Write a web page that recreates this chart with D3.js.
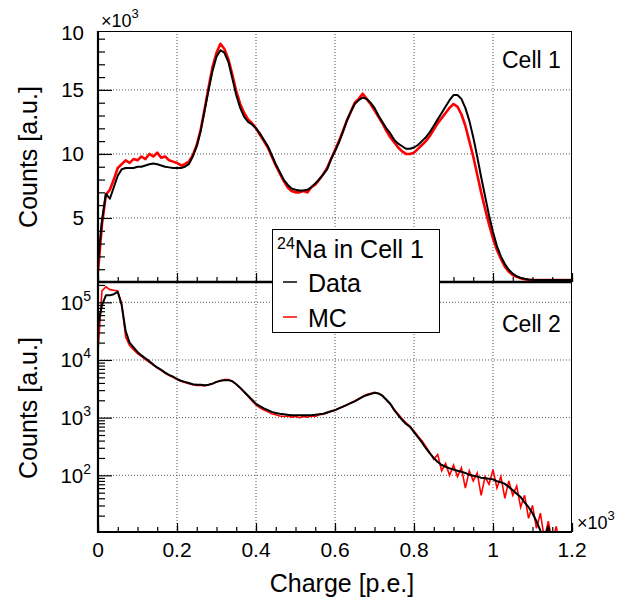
<!DOCTYPE html>
<html><head><meta charset="utf-8">
<script src="https://cdn.jsdelivr.net/npm/d3@7"></script>
<style>body{margin:0;background:#fff} text{font-family:"Liberation Sans",Arial,Helvetica,sans-serif;fill:#000}</style>
</head><body><svg id="c" width="641" height="600"></svg>
<script>
// bin centres, charge in units of 10^3 p.e.
const charge = d3.range(121).map(i => i / 100);

// Cell 1 (linear, units of 10^3 counts)
const cell1Data = [1.5,4.8,6.9,6.5,7.4,8.3,8.8,8.9,8.9,8.9,
 9.0,9.0,9.1,9.2,9.25,9.2,9.1,9.0,8.95,8.9,
 8.9,8.9,9.0,9.2,9.8,10.6,11.8,13.4,15.0,16.5,
 17.6,18.1,17.9,17.2,15.9,14.6,13.6,12.9,12.5,12.3,
 12.0,11.6,11.1,10.6,9.9,9.2,8.6,8.0,7.6,7.3,
 7.2,7.15,7.15,7.2,7.4,7.7,8.0,8.4,8.8,9.6,
 10.2,10.9,11.7,12.6,13.3,13.9,14.2,14.4,14.3,14.0,
 13.6,13.0,12.5,12.0,11.6,11.1,10.8,10.6,10.4,10.4,
 10.5,10.7,11.0,11.3,11.7,12.2,12.7,13.2,13.7,14.2,
 14.6,14.6,14.3,13.6,12.6,11.3,9.8,8.2,6.7,5.2,
 3.9,2.8,2.0,1.4,0.95,0.65,0.45,0.32,0.25,0.2,
 0.17,0.15,0.15,0.15,0.15,0.15,0.15,0.15,0.15,0.15,0.15];
const cell1MC = [0.8,4.5,6.8,7.2,8.0,8.9,9.2,9.5,9.3,9.6,
 9.5,9.8,9.6,10.0,9.8,10.1,9.7,9.8,9.5,9.4,
 9.3,9.1,9.2,9.4,9.9,10.7,11.9,13.5,15.2,16.8,
 17.9,18.6,18.2,17.4,16.2,14.9,13.9,13.2,12.7,12.4,
 12.0,11.5,11.0,10.5,9.8,9.1,8.5,7.9,7.4,7.1,
 7.0,7.0,7.1,7.0,7.4,7.6,8.0,8.4,8.9,9.6,
 10.3,11.0,11.8,12.6,13.3,14.0,14.3,14.7,14.3,13.9,
 13.4,12.9,12.4,11.8,11.3,10.9,10.5,10.2,10.0,10.0,
 10.1,10.4,10.7,11.0,11.4,11.9,12.4,12.8,13.2,13.6,
 13.9,13.7,13.1,12.2,11.0,9.8,8.4,7.0,5.7,4.5,
 3.4,2.5,1.8,1.2,0.8,0.55,0.4,0.3,0.22,0.18,
 0.15,0.15,0.15,0.15,0.15,0.15,0.15,0.15,0.15,0.15,0.15];

// Cell 2 (log, counts)
const cell2Data = [4.0e4,8.9e4,1.32e5,1.32e5,1.38e5,1.51e5,8.9e4,3.16e4,2.0e4,1.66e4,
 1.38e4,1.20e4,1.07e4,9550,8320,7410,6760,6030,5500,5130,
 4680,4370,4170,3980,3800,3720,3720,3630,3720,3890,
 4170,4370,4470,4470,4270,3800,3310,2820,2400,2040,
 1740,1580,1450,1350,1260,1200,1170,1150,1120,1100,
 1100,1100,1100,1100,1100,1120,1150,1170,1230,1290,
 1350,1450,1550,1660,1780,1910,2090,2290,2450,2570,
 2690,2630,2400,2040,1740,1350,1100,912,776,692,
 562,457,372,295,240,200,170,151,141,132,
 126,120,115,110,102,98,95,91,89,87,
 85,79,76,71,63,55,48,42,34,28,
 22,16,11,8,13,6,null,null,null,null,null];
const cell2MC = [1.41e4,1.58e5,1.86e5,1.66e5,1.62e5,1.58e5,9.5e4,2.51e4,1.78e4,1.51e4,
 1.29e4,1.15e4,1.02e4,9120,8130,7240,6610,5890,5370,5010,
 4570,4270,4070,3890,3720,3630,3630,3550,3720,3890,
 4170,4370,4570,4570,4270,3800,3240,2750,2340,1950,
 1660,1480,1350,1260,1170,1120,1070,1050,1070,1020,
 1050,1000,1050,1020,1070,1050,1120,1150,1200,1290,
 1350,1450,1550,1660,1820,1950,2140,2340,2510,2630,
 2750,2630,2400,2040,1700,1380,1150,955,813,708,
 589,479,398,316,250,190,230,120,160,100,
 150,95,135,60,120,80,110,45,95,70,
 125,60,95,40,80,45,65,28,45,18,
 30,12,22,8,16,7,13,6,null,null,null];

const xTickValues = [0,0.2,0.4,0.6,0.8,1,1.2];
const xTickLabels = ["0","0.2","0.4","0.6","0.8","1","1.2"];
const xMinorValues = d3.range(25).map(i => i * 0.05);
const topTickValues = [5,10,15];
const topTickLabels = ["5","10","15"];
const topMinorValues = d3.range(1,20);
const botTickValues = [1e2,1e3,1e4,1e5];
const botTickExps = ["2","3","4","5"];

const svg = d3.select("#c");
const L = 98, R = 572, T1 = 31, B1 = 282, T2 = 282, B2 = 532;
const x = d3.scaleLinear([0,1.2],[L,R]);
const yTop = d3.scaleLinear([0,19.6],[B1,T1]);
const yBot = d3.scaleLog([10.4,2.25e5],[B2,T2]);
const botMinor = [];
[10,100,1000,10000,100000].forEach(d => { for (let k=2;k<=9;k++){ const v=d*k; if (v>10.4 && v<2.25e5) botMinor.push(v);} });

svg.append("rect").attr("width",641).attr("height",600).attr("fill","#fff");

const grid = svg.append("g").attr("stroke","#555").attr("stroke-width",1).attr("stroke-dasharray","1,2");
xTickValues.filter(v => v>0 && v<1.2).forEach(v => {
  grid.append("line").attr("x1",x(v)).attr("x2",x(v)).attr("y1",T1).attr("y2",B2);
});
topTickValues.forEach(v => grid.append("line").attr("x1",L).attr("x2",R).attr("y1",yTop(v)).attr("y2",yTop(v)));
botTickValues.forEach(v => grid.append("line").attr("x1",L).attr("x2",R).attr("y1",yBot(v)).attr("y2",yBot(v)));

// clips
svg.append("clipPath").attr("id","c1").append("rect").attr("x",L).attr("y",T1).attr("width",R-L).attr("height",B1-T1);
svg.append("clipPath").attr("id","c2").append("rect").attr("x",L).attr("y",T2).attr("width",R-L).attr("height",B2-T2);

const lineTop = d3.line().x((d,i)=>x(charge[i])).y(d=>yTop(d));
const lineBot = d3.line().defined(d=>d!=null && d>0).x((d,i)=>x(charge[i])).y(d=>yBot(d));

const g1 = svg.append("g").attr("clip-path","url(#c1)");
g1.append("path").attr("d",lineTop(cell1MC)).attr("fill","none").attr("stroke","#ff0000").attr("stroke-width",2.6).attr("stroke-linejoin","round");
g1.append("path").attr("d",lineTop(cell1Data)).attr("fill","none").attr("stroke","#000").attr("stroke-width",2).attr("stroke-linejoin","round");

const g2 = svg.append("g").attr("clip-path","url(#c2)");
g2.append("path").attr("d",lineBot(cell2MC)).attr("fill","none").attr("stroke","#ff0000").attr("stroke-width",1.6);
g2.append("path").attr("d",lineBot(cell2Data)).attr("fill","none").attr("stroke","#000").attr("stroke-width",2).attr("stroke-linejoin","round");

// axes ticks
function noDomain(g){ g.select(".domain").remove(); g.selectAll("text").remove(); g.selectAll("line").attr("stroke","#000").attr("stroke-width",1.2); }
svg.append("g").attr("transform",`translate(${L},0)`).call(d3.axisLeft(yTop).tickValues(topMinorValues).tickSize(-7).tickFormat("")).call(noDomain);
svg.append("g").attr("transform",`translate(${L},0)`).call(d3.axisLeft(yTop).tickValues(topTickValues).tickSize(-14).tickFormat("")).call(noDomain);
svg.append("g").attr("transform",`translate(${L},0)`).call(d3.axisLeft(yBot).tickValues(botMinor).tickSize(-7).tickFormat("")).call(noDomain);
svg.append("g").attr("transform",`translate(${L},0)`).call(d3.axisLeft(yBot).tickValues(botTickValues).tickSize(-14).tickFormat("")).call(noDomain);
[B1,B2].forEach(b => {
  svg.append("g").attr("transform",`translate(0,${b})`).call(d3.axisBottom(x).tickValues(xMinorValues).tickSize(-5).tickFormat("")).call(noDomain);
  svg.append("g").attr("transform",`translate(0,${b})`).call(d3.axisBottom(x).tickValues(xTickValues).tickSize(-9).tickFormat("")).call(noDomain);
});

// frames
const fr = svg.append("g").attr("stroke","#000").attr("fill","none");
fr.append("line").attr("x1",L).attr("x2",R).attr("y1",T1+0.5).attr("y2",T1+0.5).attr("stroke-width",1);
fr.append("line").attr("x1",R-0.5).attr("x2",R-0.5).attr("y1",T1).attr("y2",B2).attr("stroke-width",1);
fr.append("line").attr("x1",L).attr("x2",L).attr("y1",T1).attr("y2",B2+1).attr("stroke-width",2.2);
fr.append("line").attr("x1",L).attr("x2",R).attr("y1",B1).attr("y2",B1).attr("stroke-width",2.4);
fr.append("line").attr("x1",L).attr("x2",R).attr("y1",B2).attr("y2",B2).attr("stroke-width",2.2);

// tick labels
const fs = 20.5;
topTickValues.forEach((v,i)=> svg.append("text").attr("x",84).attr("y",yTop(v)+7.5).attr("text-anchor","end").attr("font-size",fs).text(topTickLabels[i]));
svg.append("text").attr("x",84).attr("y",yTop(19.6)+9).attr("text-anchor","end").attr("font-size",fs).text("10");
botTickValues.forEach((v,i)=>{
  const t = svg.append("text").attr("x",91).attr("y",yBot(v)+7.5).attr("text-anchor","end").attr("font-size",fs);
  t.append("tspan").text("10");
  t.append("tspan").attr("dy",-9).attr("font-size",14).text(botTickExps[i]);
});
xTickValues.forEach((v,i)=> svg.append("text").attr("x",x(v)).attr("y",557).attr("text-anchor","middle").attr("font-size",21).text(xTickLabels[i]));

// exponent labels
const e1 = svg.append("text").attr("x",101).attr("y",27).attr("font-size",18);
e1.append("tspan").text("\u00d710"); e1.append("tspan").attr("dy",-9).attr("font-size",13).text("3");
const e2 = svg.append("text").attr("x",577).attr("y",529).attr("font-size",18);
e2.append("tspan").text("\u00d710"); e2.append("tspan").attr("dy",-9).attr("font-size",13).text("3");

// axis titles
svg.append("text").attr("transform","translate(37,157) rotate(-90)").attr("text-anchor","middle").attr("font-size",25).text("Counts [a.u.]");
svg.append("text").attr("transform","translate(37,408) rotate(-90)").attr("text-anchor","middle").attr("font-size",25).text("Counts [a.u.]");
svg.append("text").attr("x",342).attr("y",592).attr("text-anchor","middle").attr("font-size",25).text("Charge [p.e.]");

// panel labels
svg.append("text").attr("x",502).attr("y",68).attr("font-size",23).text("Cell 1");
svg.append("text").attr("x",502).attr("y",332).attr("font-size",23).text("Cell 2");

// legend
const lg = svg.append("g");
lg.append("rect").attr("x",272.5).attr("y",229.5).attr("width",167).attr("height",103).attr("fill","#fff").attr("stroke","#000").attr("stroke-width",1);
const lt = lg.append("text").attr("x",277).attr("y",258).attr("font-size",25);
lt.append("tspan").attr("font-size",16).attr("dy",-9).text("24");
lt.append("tspan").attr("dy",9).text("Na in Cell 1");
const legendItems = [{name:"Data",color:"#000",y:282},{name:"MC",color:"#ff0000",y:317}];
legendItems.forEach(d=>{
  lg.append("line").attr("x1",283).attr("x2",297).attr("y1",d.y).attr("y2",d.y).attr("stroke",d.color).attr("stroke-width",1.5);
  lg.append("text").attr("x",308).attr("y",d.y+10).attr("font-size",25).text(d.name);
});
</script></body></html>
